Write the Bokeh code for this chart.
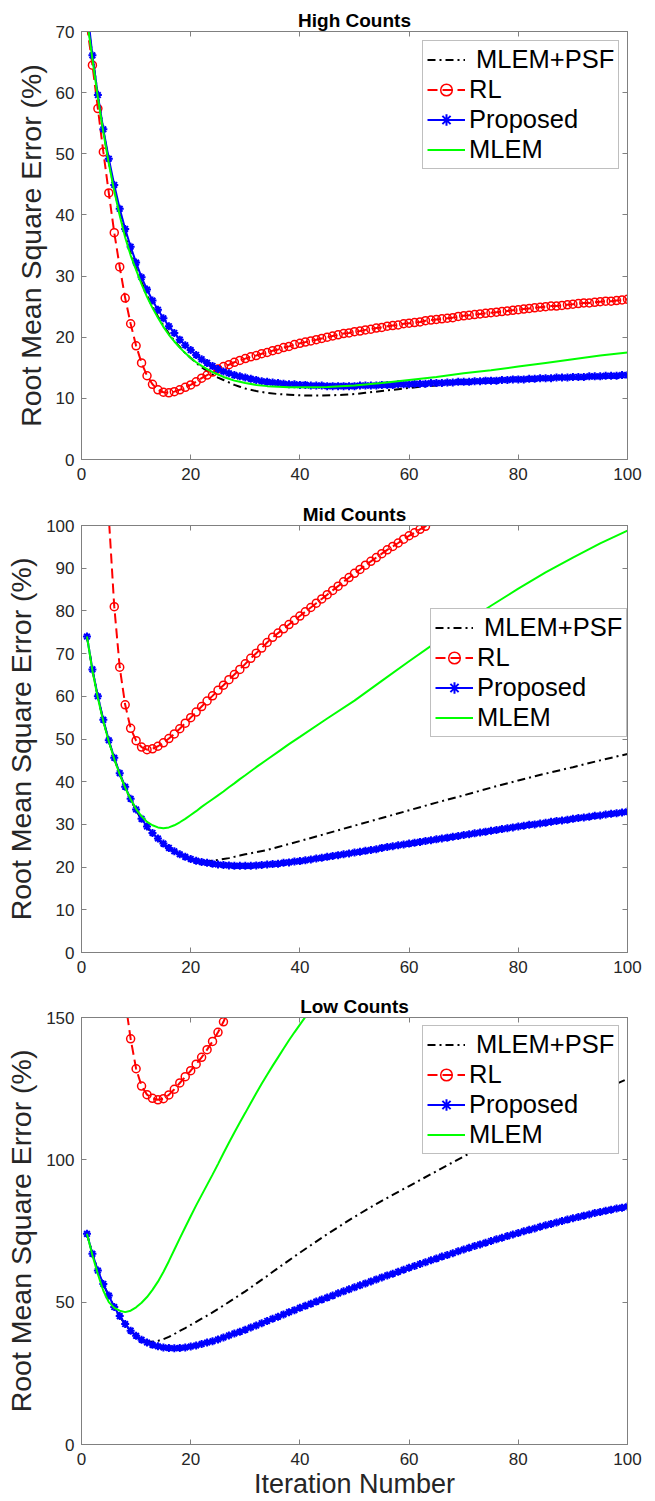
from bokeh.plotting import figure
from bokeh.models import Range1d, LinearAxis, FixedTicker, Legend, LegendItem, Title
from bokeh.layouts import column
from bokeh.embed import file_html
from bokeh.resources import INLINE

FONT = "Liberation Sans"
AXIS = "#808080"
TXT = "#262626"

iterations = list(range(1, 101))
x_ticks = [0, 20, 40, 60, 80, 100]
legend_labels = ["\u00a0MLEM+PSF", "RL", "Proposed", "MLEM"]

# ---------------- High counts ----------------
high_y_ticks = [0, 10, 20, 30, 40, 50, 60, 70]
high_proposed = [74.0, 66.1, 59.6, 54.0, 49.2, 44.9, 41.0, 37.7, 34.8, 32.2,
                 29.8, 27.8, 26.0, 24.5, 23.1, 21.8, 20.7, 19.6, 18.7, 17.9,
                 17.1, 16.4, 15.8, 15.3, 14.8, 14.4, 14.1, 13.8, 13.6, 13.4,
                 13.2, 13.0, 12.8, 12.7, 12.6, 12.5, 12.4, 12.3, 12.3, 12.2,
                 12.2, 12.1, 12.1, 12.1, 12.0, 12.0, 12.0, 12.0, 12.0, 12.0,
                 12.1, 12.1, 12.1, 12.1, 12.2, 12.2, 12.2, 12.3, 12.3, 12.3,
                 12.4, 12.4, 12.4, 12.5, 12.5, 12.5, 12.6, 12.6, 12.7, 12.7,
                 12.7, 12.8, 12.8, 12.9, 12.9, 12.9, 13.0, 13.0, 13.1, 13.1,
                 13.1, 13.2, 13.2, 13.3, 13.3, 13.3, 13.4, 13.4, 13.4, 13.5,
                 13.5, 13.5, 13.6, 13.6, 13.6, 13.7, 13.7, 13.7, 13.8, 13.8]
high_rl_x = list(range(1, 101))
high_rl = [71.0, 64.5, 57.4, 50.3, 43.6, 37.1, 31.5, 26.4, 22.2, 18.6,
           15.8, 13.7, 12.3, 11.4, 11.0, 10.9, 11.1, 11.4, 11.8, 12.2,
           12.7, 13.3, 13.8, 14.3, 14.8, 15.2, 15.5, 15.9, 16.2, 16.5,
           16.8, 17.0, 17.3, 17.5, 17.8, 18.0, 18.3, 18.5, 18.8, 19.0,
           19.2, 19.4, 19.6, 19.8, 20.0, 20.2, 20.4, 20.6, 20.7, 20.9,
           21.0, 21.2, 21.3, 21.5, 21.6, 21.8, 21.9, 22.0, 22.2, 22.3,
           22.4, 22.5, 22.7, 22.8, 22.9, 23.0, 23.1, 23.2, 23.4, 23.5,
           23.6, 23.7, 23.8, 23.9, 24.0, 24.1, 24.2, 24.3, 24.4, 24.5,
           24.6, 24.7, 24.8, 24.9, 25.0, 25.1, 25.1, 25.2, 25.3, 25.4,
           25.5, 25.6, 25.6, 25.7, 25.8, 25.9, 25.9, 26.0, 26.1, 26.2]
high_mlem_x = list(range(1, 31)) + [32, 34, 36, 38, 40, 42, 45, 50, 55, 60, 65, 70, 75, 80, 85, 90, 95, 100]
high_mlem = [72.0, 65.5, 59.2, 53.5, 48.4, 43.9, 39.9, 36.3, 33.4, 31.0,
             28.7, 26.6, 24.8, 23.2, 21.7, 20.4, 19.3, 18.3, 17.4, 16.6,
             15.9, 15.3, 14.8, 14.3, 13.9, 13.5, 13.2, 12.9, 12.7, 12.5,
             12.2, 12.0, 11.9, 11.8, 11.8, 11.8, 11.85, 12.1, 12.5, 13.0,
             13.5, 14.1, 14.6, 15.2, 15.8, 16.4, 17.0, 17.5]
high_psf_x = list(range(1, 31)) + [32, 34, 36, 38, 40, 42, 44, 46, 48, 50, 52, 55, 58, 60, 62, 65, 70, 75, 80, 85, 90, 95, 100]
high_psf = [72.5, 66.0, 59.5, 53.7, 48.7, 44.2, 40.3, 36.9, 33.9, 31.3,
            29.0, 26.9, 25.0, 23.4, 21.9, 20.6, 19.4, 18.4, 17.4, 16.6,
            15.8, 15.1, 14.5, 13.9, 13.4, 13.0, 12.6, 12.2, 11.9, 11.6,
            11.2, 10.9, 10.7, 10.6, 10.5, 10.45, 10.45, 10.5, 10.6, 10.7,
            10.9, 11.2, 11.5, 11.7, 11.9, 12.1, 12.5, 12.8, 13.0, 13.2,
            13.4, 13.5, 13.7]

# ---------------- Mid counts ----------------
mid_y_ticks = [0, 10, 20, 30, 40, 50, 60, 70, 80, 90, 100]
mid_proposed = [74.0, 66.3, 60.0, 54.5, 49.7, 45.6, 42.0, 38.8, 36.0, 33.5,
                31.3, 29.5, 28.0, 26.7, 25.5, 24.5, 23.7, 23.0, 22.4, 21.9,
                21.5, 21.2, 21.0, 20.8, 20.6, 20.5, 20.4, 20.3, 20.3, 20.3,
                20.3, 20.4, 20.5, 20.6, 20.7, 20.8, 21.0, 21.1, 21.3, 21.4,
                21.6, 21.8, 22.0, 22.2, 22.4, 22.6, 22.8, 23.0, 23.2, 23.4,
                23.6, 23.8, 24.0, 24.2, 24.5, 24.7, 24.9, 25.1, 25.3, 25.5,
                25.7, 25.9, 26.1, 26.3, 26.5, 26.7, 26.9, 27.1, 27.3, 27.5,
                27.7, 27.9, 28.1, 28.3, 28.5, 28.7, 28.9, 29.1, 29.3, 29.5,
                29.7, 29.9, 30.0, 30.2, 30.4, 30.6, 30.8, 30.9, 31.1, 31.3,
                31.5, 31.6, 31.8, 32.0, 32.1, 32.3, 32.5, 32.6, 32.8, 33.0]
mid_rl_x = list(range(4, 65))
mid_rl = [125.0, 102.0, 81.0, 66.8, 58.0, 52.5, 49.6, 48.1, 47.5, 47.7,
          48.3, 49.1, 50.1, 51.2, 52.4, 53.7, 55.0, 56.3, 57.6, 58.9,
          60.1, 61.4, 62.6, 63.9, 65.1, 66.3, 67.6, 68.9, 70.1, 71.3,
          72.6, 73.8, 74.8, 75.8, 76.8, 77.8, 78.8, 79.8, 80.8, 81.8,
          82.8, 83.8, 84.8, 85.8, 86.8, 87.8, 88.8, 89.7, 90.7, 91.6,
          92.5, 93.4, 94.3, 95.1, 95.9, 96.8, 97.6, 98.3, 99.1, 99.8,
          101.5]
mid_mlem_x = list(range(1, 31)) + [32, 34, 36, 38, 40, 45, 50, 55, 60, 65, 70, 75, 80, 85, 90, 95, 100]
mid_mlem = [74.0, 66.0, 59.6, 54.1, 49.4, 45.3, 41.7, 38.6, 35.9, 33.6,
            31.9, 30.6, 29.8, 29.3, 29.1, 29.3, 29.8, 30.5, 31.3, 32.2,
            33.1, 34.1, 35.0, 35.9, 36.8, 37.7, 38.7, 39.6, 40.6, 41.5,
            43.4, 45.2, 47.0, 48.8, 50.5, 54.8, 59.0, 63.6, 68.2, 72.7,
            77.0, 81.2, 85.2, 89.0, 92.5, 95.8, 98.8]
mid_psf_x = list(range(1, 31)) + [32, 34, 36, 38, 40, 45, 50, 55, 60, 65, 70, 75, 80, 85, 90, 95, 100]
mid_psf = [74.0, 66.2, 59.8, 54.3, 49.5, 45.4, 41.8, 38.6, 35.8, 33.3,
           31.1, 29.3, 27.8, 26.5, 25.3, 24.3, 23.5, 22.8, 22.3, 21.9,
           21.6, 21.5, 21.4, 21.5, 21.7, 21.9, 22.1, 22.4, 22.7, 23.0,
           23.5, 24.0, 24.7, 25.4, 26.1, 27.9, 29.7, 31.5, 33.3, 35.1,
           36.8, 38.6, 40.3, 41.9, 43.4, 45.0, 46.5]

# ---------------- Low counts ----------------
low_y_ticks = [0, 50, 100, 150]
low_proposed = [74.0, 67.0, 61.1, 56.4, 52.3, 48.3, 45.1, 42.3, 40.0, 38.2,
                36.8, 35.8, 35.0, 34.5, 34.1, 33.9, 33.8, 33.9, 34.1, 34.4,
                34.8, 35.3, 35.8, 36.3, 36.9, 37.6, 38.3, 39.0, 39.6, 40.3,
                41.1, 41.8, 42.6, 43.4, 44.2, 44.9, 45.7, 46.5, 47.2, 48.0,
                48.7, 49.4, 50.2, 50.9, 51.6, 52.3, 53.1, 53.8, 54.5, 55.2,
                55.9, 56.6, 57.3, 58.0, 58.7, 59.4, 60.0, 60.7, 61.4, 62.1,
                62.7, 63.4, 64.0, 64.7, 65.3, 66.0, 66.6, 67.2, 67.9, 68.5,
                69.1, 69.7, 70.3, 70.9, 71.5, 72.1, 72.6, 73.2, 73.8, 74.3,
                74.9, 75.4, 75.9, 76.5, 77.0, 77.5, 78.0, 78.5, 79.0, 79.5,
                79.9, 80.4, 80.8, 81.3, 81.7, 82.1, 82.5, 82.9, 83.2, 83.6]
low_rl_x = list(range(8, 28))
low_rl = [156.0, 142.5, 132.0, 125.9, 122.9, 121.6, 121.1, 121.5, 122.8, 124.8,
          127.0, 129.2, 131.3, 133.6, 136.0, 138.7, 141.6, 144.8, 148.5, 153.0]
low_mlem_x = list(range(1, 43))
low_mlem = [74.0, 66.5, 59.8, 54.0, 50.0, 48.0, 47.0, 46.5, 47.0, 48.2,
            49.8, 51.8, 54.3, 57.2, 60.6, 64.4, 68.4, 72.4, 76.3, 80.2,
            84.0, 87.6, 91.2, 94.8, 98.5, 102.3, 106.0, 109.6, 113.1, 116.5,
            120.0, 123.4, 126.7, 129.9, 133.0, 136.0, 139.0, 142.0, 144.8, 147.5,
            150.2, 152.8]
low_psf_x = list(range(1, 21)) + [22, 24, 26, 28, 30, 32, 34, 36, 38, 40, 45, 50, 55, 60, 65, 70, 75, 80, 85, 90, 95, 100]
low_psf = [74.0, 67.0, 61.0, 56.3, 52.2, 48.2, 45.0, 42.2, 39.9, 38.1,
           36.9, 36.2, 36.1, 36.4, 37.0, 37.8, 38.8, 39.9, 40.9, 42.0,
           44.2, 46.4, 48.8, 51.3, 53.8, 56.5, 59.2, 62.0, 64.7, 67.4,
           73.9, 80.0, 85.6, 90.8, 96.0, 101.2, 106.1, 110.9, 115.5, 119.9,
           124.2, 128.4]


def style_axis(ax, ticks, labels=True, standoff=3):
    ax.ticker = FixedTicker(ticks=ticks)
    ax.axis_line_color = AXIS
    ax.axis_line_width = 1
    ax.major_tick_line_color = AXIS
    ax.major_tick_line_width = 1
    ax.major_tick_in = 5
    ax.major_tick_out = 0
    ax.minor_tick_line_color = None
    ax.major_label_text_font = FONT
    if labels:
        ax.major_label_text_color = TXT
        ax.major_label_text_font_size = "17px"
        ax.major_label_standoff = standoff
    else:
        ax.major_label_text_color = None
        ax.major_label_text_font_size = "1px"
        ax.major_label_standoff = 0


def panel(title, y_max, y_ticks, psf_x, psf_y, rl_x, rl_y, prop_y, mlem_x, mlem_y,
          height, top, bottom, legend_xy, x_label=None):
    p = figure(width=647, height=height, x_range=Range1d(0, 100), y_range=Range1d(0, y_max),
               output_backend="svg", toolbar_location=None,
               min_border_left=81, min_border_right=20,
               min_border_top=top, min_border_bottom=bottom,
               background_fill_color="white", border_fill_color="white")
    p.outline_line_color = AXIS
    p.xgrid.visible = False
    p.ygrid.visible = False

    xa = p.xaxis[0]
    ya = p.yaxis[0]
    style_axis(xa, x_ticks, True, 8)
    style_axis(ya, y_ticks, True, 7)
    top_ax = LinearAxis()
    style_axis(top_ax, x_ticks, False)
    p.add_layout(top_ax, "above")
    right_ax = LinearAxis()
    style_axis(right_ax, y_ticks, False)
    p.add_layout(right_ax, "right")

    p.add_layout(Title(text=title, align="center", text_font=FONT, text_font_size="19px",
                       text_font_style="bold", text_color="black", standoff=2), "above")

    ya.axis_label = "Root Mean Square Error (%)"
    ya.axis_label_text_font = FONT
    ya.axis_label_text_font_size = "28.5px"
    ya.axis_label_text_font_style = "normal"
    ya.axis_label_text_color = TXT
    ya.axis_label_standoff = 6
    if x_label:
        xa.axis_label = x_label
        xa.axis_label_text_font = FONT
        xa.axis_label_text_font_size = "27px"
        xa.axis_label_text_font_style = "normal"
        xa.axis_label_text_color = TXT
        xa.axis_label_standoff = 1

    r_psf = p.line(psf_x, psf_y, line_color="black", line_width=2, line_dash="8 4 2 4")
    r_rl_line = p.line(rl_x, rl_y, line_color="#ff0000", line_width=2, line_dash="10 5")
    r_rl_pts = p.scatter(rl_x, rl_y, marker="circle", size=8, line_color="#ff0000",
                         fill_color=None, line_width=1.5)
    r_prop_line = p.line(iterations, prop_y, line_color="#0000ff", line_width=2)
    r_prop_pts = p.scatter(iterations, prop_y, marker="asterisk", size=8,
                           line_color="#0000ff", line_width=2)
    r_mlem = p.line(mlem_x, mlem_y, line_color="#00ff00", line_width=2)

    legend = Legend(items=[
        LegendItem(label=legend_labels[0], renderers=[r_psf]),
        LegendItem(label=legend_labels[1], renderers=[r_rl_line, r_rl_pts]),
        LegendItem(label=legend_labels[2], renderers=[r_prop_line, r_prop_pts]),
        LegendItem(label=legend_labels[3], renderers=[r_mlem]),
    ], location=legend_xy)
    legend.margin = 0
    legend.padding = 4
    legend.spacing = 1
    legend.glyph_width = 38
    legend.glyph_height = 29
    legend.label_height = 29
    legend.label_width = 145
    legend.label_standoff = 4
    legend.label_text_font = FONT
    legend.label_text_font_size = "25.5px"
    legend.label_text_color = "black"
    legend.border_line_color = AXIS
    legend.border_line_width = 1
    legend.background_fill_color = "white"
    legend.background_fill_alpha = 1.0
    p.add_layout(legend, "center")
    return p


p1 = panel("High Counts", 70, high_y_ticks, high_psf_x, high_psf, high_rl_x, high_rl,
           high_proposed, high_mlem_x, high_mlem, 500, 31, 41, (341, 290))
p2 = panel("Mid Counts", 100, mid_y_ticks, mid_psf_x, mid_psf, mid_rl_x, mid_rl,
           mid_proposed, mid_mlem_x, mid_mlem, 492, 25, 40, (349, 215))
p3 = panel("Low Counts", 150, low_y_ticks, low_psf_x, low_psf, low_rl_x, low_rl,
           low_proposed, low_mlem_x, low_mlem, 509, 25, 57, (341, 290),
           x_label="Iteration Number")

layout = column(p1, p2, p3, spacing=0)
open("out.html", "w").write(file_html(layout, INLINE))
